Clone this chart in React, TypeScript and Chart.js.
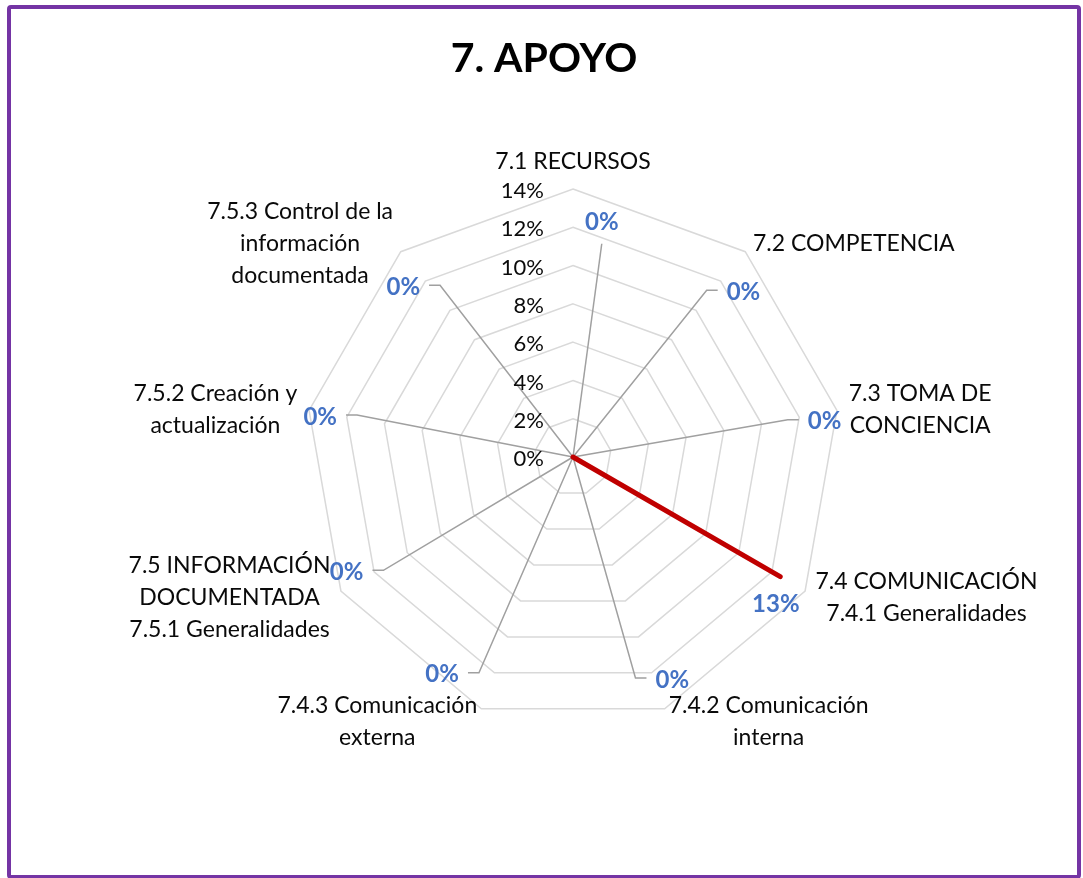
import React, { useEffect, useRef } from "react";
import { Chart, registerables } from "chart.js";

Chart.register(...registerables);

const TITLE = "7. APOYO";

const categories: string[][] = [
  ["7.1 RECURSOS"],
  ["7.2 COMPETENCIA"],
  ["7.3 TOMA DE", "CONCIENCIA"],
  ["7.4 COMUNICACIÓN", "7.4.1 Generalidades"],
  ["7.4.2 Comunicación", "interna"],
  ["7.4.3 Comunicación", "externa"],
  ["7.5 INFORMACIÓN", "DOCUMENTADA", "7.5.1 Generalidades"],
  ["7.5.2 Creación y", "actualización"],
  ["7.5.3 Control de la", "información", "documentada"],
];

const values: number[] = [0, 0, 0, 0.125, 0, 0, 0, 0, 0];

const tickValues: number[] = [0, 0.02, 0.04, 0.06, 0.08, 0.1, 0.12, 0.14];

// data-label placement (angle nudge in degrees, radial distance in axis units)
const labelAngleNudge: number[] = [7, 6, 2, 6, -4, 11, 3, -1, -5];
const labelRadius: number[] = [0.1233, 0.1238, 0.1327, 0.131, 0.1275, 0.1327, 0.1327, 0.1337, 0.1254];

const FONT = "Lato, 'Open Sans', sans-serif";
const pct = (v: number) => `${Math.round(v * 100)}%`;

function labelPos(scale: any, i: number) {
  const ang = scale.getIndexAngle(i) + (labelAngleNudge[i] * Math.PI) / 180 - Math.PI / 2;
  const d = scale.getDistanceFromCenterForValue(labelRadius[i]);
  return { x: scale.xCenter + Math.cos(ang) * d, y: scale.yCenter + Math.sin(ang) * d };
}

const decorPlugin = {
  id: "decor",
  beforeDatasetsDraw(chart: any) {
    const ctx = chart.ctx;
    const scale = chart.scales.r;
    const ds = chart.data.datasets[0].data as number[];
    ctx.save();
    ctx.font = `bold 24px ${FONT}`;
    ctx.strokeStyle = "#a0a0a0";
    ctx.lineWidth = 1.5;
    ds.forEach((v, i) => {
      const p = scale.getPointPosition(i, scale.getDistanceFromCenterForValue(v));
      const l = labelPos(scale, i);
      const dx = l.x - p.x;
      const dy = l.y - p.y;
      if (Math.hypot(dx, dy) < 45) return;
      const tw = ctx.measureText(pct(v)).width;
      ctx.beginPath();
      ctx.moveTo(p.x, p.y);
      if (Math.abs(dx) < 0.2 * Math.abs(dy)) {
        ctx.lineTo(l.x, l.y - Math.sign(dy) * 21);
      } else {
        const side = Math.sign(dx);
        const hookEnd = l.x - side * (tw / 2 + 9);
        const elbow = hookEnd - side * 11;
        ctx.lineTo(elbow, l.y - 2);
        ctx.lineTo(hookEnd, l.y - 2);
      }
      ctx.stroke();
    });
    ctx.restore();
  },
  afterDraw(chart: any) {
    const ctx = chart.ctx;
    const scale = chart.scales.r;
    ctx.save();

    // title
    ctx.fillStyle = "#000";
    ctx.font = `bold 41px ${FONT}`;
    ctx.textAlign = "center";
    ctx.textBaseline = "middle";
    ctx.fillText(TITLE, 544, 59);

    // tick labels
    ctx.font = `22px ${FONT}`;
    ctx.textAlign = "right";
    ctx.fillStyle = "#0a0a0a";
    scale.ticks.forEach((t: any) => {
      const d = scale.getDistanceFromCenterForValue(t.value);
      ctx.fillText(pct(t.value), scale.xCenter - 29, scale.yCenter - d + 2);
    });

    // point (category) labels
    ctx.font = `23px ${FONT}`;
    const lineH = 32;
    (chart.data.labels as string[][]).forEach((lines, i) => {
      const a = scale.getPointPosition(i, scale.drawingArea + 12);
      const angle = scale.getIndexAngle(i);
      const s = Math.sin(angle);
      const c = Math.cos(angle);
      const widths = lines.map((ln) => ctx.measureText(ln).width);
      const bw = Math.max(...widths);
      const bh = lines.length * lineH;
      let cx: number;
      if (Math.abs(s) < 0.05) cx = a.x;
      else if (s > 0) cx = a.x + bw / 2;
      else cx = a.x - bw / 2;
      let cy: number;
      if (Math.abs(s) < 0.05) cy = c > 0 ? a.y - bh / 2 : a.y + bh / 2;
      else cy = a.y;
      ctx.textAlign = "center";
      lines.forEach((ln, k) => {
        ctx.fillText(ln, cx, cy - bh / 2 + lineH * (k + 0.5) + 1);
      });
    });

    // data labels
    ctx.font = `bold 24px ${FONT}`;
    ctx.fillStyle = "#4472C4";
    ctx.textAlign = "center";
    (chart.data.datasets[0].data as number[]).forEach((v, i) => {
      const l = labelPos(scale, i);
      ctx.fillText(pct(v), l.x, l.y);
    });
    ctx.restore();
  },
};

export default function App() {
  const ref = useRef<HTMLCanvasElement | null>(null);

  useEffect(() => {
    if (!ref.current) return;
    const chart = new Chart(ref.current, {
      type: "radar",
      data: {
        labels: categories as any,
        datasets: [
          {
            data: values,
            borderColor: "#C00000",
            backgroundColor: "rgba(0,0,0,0)",
            borderWidth: 5,
            borderCapStyle: "round",
            borderJoinStyle: "round",
            pointRadius: 0,
            fill: false,
          },
        ],
      },
      options: {
        responsive: false,
        maintainAspectRatio: false,
        animation: false,
        layout: { padding: { left: 305, top: 189, right: 242, bottom: 153 } },
        plugins: {
          legend: { display: false },
          tooltip: { enabled: false },
          title: { display: false },
        },
        scales: {
          r: {
            min: 0,
            max: 0.14,
            angleLines: { display: false },
            grid: { color: "#d9d9d9", lineWidth: 1.5 },
            ticks: { display: false, stepSize: 0.02 },
            pointLabels: { display: false },
            afterBuildTicks: (s: any) => {
              s.ticks = tickValues.map((v) => ({ value: v }));
            },
          },
        },
      },
      plugins: [decorPlugin],
    } as any);
    return () => chart.destroy();
  }, []);

  return (
    <div style={{ position: "absolute", left: 0, top: 0, width: 1083, height: 878, overflow: "hidden", background: "#fff" }}>
      <canvas ref={ref} width={1083} height={878} style={{ position: "absolute", left: 0, top: 0 }} />
      <div
        style={{
          position: "absolute",
          left: 7,
          top: 5,
          width: 1074,
          height: 874,
          border: "4px solid #7434A4",
          borderRadius: 4,
          boxSizing: "border-box",
          pointerEvents: "none",
        }}
      />
    </div>
  );
}
